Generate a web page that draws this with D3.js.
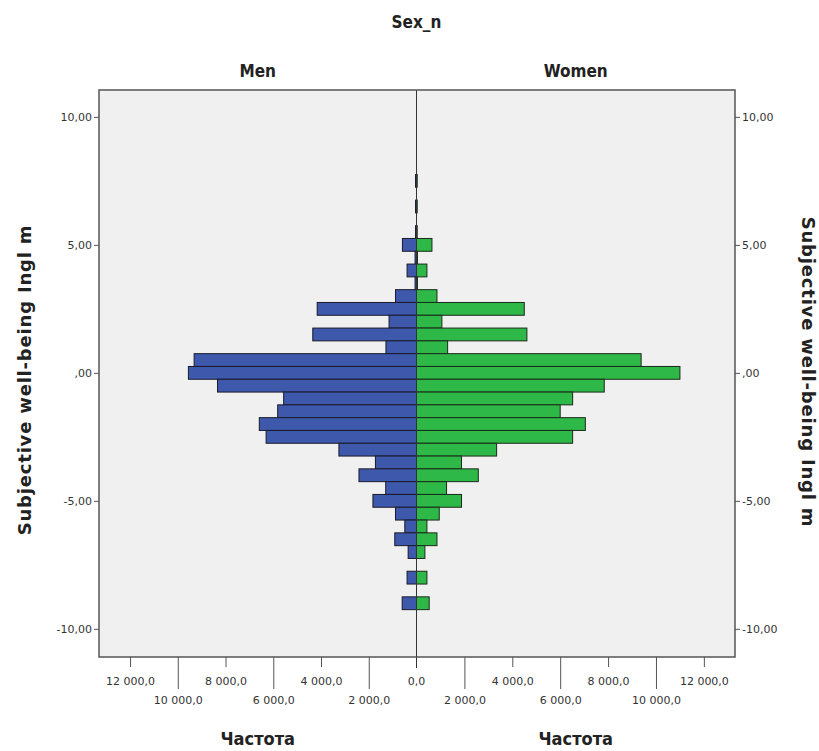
<!DOCTYPE html>
<html>
<head>
<meta charset="utf-8">
<script src="https://cdn.jsdelivr.net/npm/d3@7"></script>
<style>
  body { margin: 0; background: #fff; }
  svg text { font-family: "DejaVu Sans", Verdana, sans-serif; }
  .narrow { font-family: "Liberation Sans Narrow", "DejaVu Sans Condensed", "Liberation Sans", sans-serif !important; }
</style>
</head>
<body>
<div id="chart"></div>
<script>
"use strict";

// bin centres (0,5 wide) of Subjective well-being
var bins = [7.5, 7, 6.5, 6, 5.5, 5, 4.5, 4, 3.5, 3, 2.5, 2, 1.5, 1, 0.5, 0,
  -0.5, -1, -1.5, -2, -2.5, -3, -3.5, -4, -4.5, -5, -5.5, -6, -6.5, -7, -7.5, -8, -8.5, -9];
var men = [40, 0, 40, 0, 40, 590, 60, 395, 60, 880, 4160, 1150, 4345, 1280, 9315, 9555,
  8335, 5565, 5815, 6585, 6300, 3250, 1720, 2410, 1290, 1825, 880, 490, 910, 350, 0, 395, 0, 600];
var women = [30, 0, 30, 0, 30, 645, 40, 435, 40, 855, 4500, 1060, 4610, 1300, 9380, 11000,
  7840, 6520, 6000, 7050, 6520, 3345, 1880, 2580, 1255, 1880, 950, 435, 855, 350, 0, 435, 0, 530];

var yTicks = [10, 5, 0, -5, -10];
var yTickLabels = ["10,00", "5,00", ",00", "-5,00", "-10,00"];
var xTicksShort = [4000, 8000, 12000];
var xTicksLong = [2000, 6000, 10000];
var xTickLabels = { 2000: "2 000,0", 4000: "4 000,0", 6000: "6 000,0", 8000: "8 000,0", 10000: "10 000,0", 12000: "12 000,0" };

var W = 819, H = 751;
var plot = { left: 99, right: 735, top: 90, bottom: 657, mid: 416.5 };
var binW = 0.5;

var svg = d3.select("#chart").append("svg")
  .attr("width", W).attr("height", H);

var y = d3.scaleLinear().domain([-11.1, 11.05]).range([plot.bottom, plot.top]);
var xL = d3.scaleLinear().domain([0, 13300]).range([plot.mid, plot.left]);
var xR = d3.scaleLinear().domain([0, 13300]).range([plot.mid, plot.right]);

// plot background
svg.append("rect")
  .attr("x", plot.left).attr("y", plot.top)
  .attr("width", plot.right - plot.left).attr("height", plot.bottom - plot.top)
  .attr("fill", "#f0f0f0");

var data = bins.map(function (b, i) { return { bin: b, men: men[i], women: women[i] }; });

// men bars
svg.append("g").selectAll("rect")
  .data(data.filter(function (d) { return d.men > 0; }))
  .enter().append("rect")
  .attr("x", function (d) { return xL(d.men); })
  .attr("y", function (d) { return y(d.bin + binW / 2); })
  .attr("width", function (d) { return plot.mid - xL(d.men); })
  .attr("height", function (d) { return y(d.bin - binW / 2) - y(d.bin + binW / 2); })
  .attr("fill", "#3e58ac")
  .attr("stroke", "#1a1a2a")
  .attr("stroke-width", 1);

// women bars
svg.append("g").selectAll("rect")
  .data(data.filter(function (d) { return d.women > 0; }))
  .enter().append("rect")
  .attr("x", plot.mid)
  .attr("y", function (d) { return y(d.bin + binW / 2); })
  .attr("width", function (d) { return xR(d.women) - plot.mid; })
  .attr("height", function (d) { return y(d.bin - binW / 2) - y(d.bin + binW / 2); })
  .attr("fill", "#2eb848")
  .attr("stroke", "#1a2a1a")
  .attr("stroke-width", 1);

// centre line (extends as 0 tick)
svg.append("line")
  .attr("x1", plot.mid).attr("x2", plot.mid)
  .attr("y1", plot.top).attr("y2", plot.bottom + 11)
  .attr("stroke", "#333").attr("stroke-width", 1);

// frame
svg.append("rect")
  .attr("x", plot.left).attr("y", plot.top)
  .attr("width", plot.right - plot.left).attr("height", plot.bottom - plot.top)
  .attr("fill", "none")
  .attr("stroke", "#555").attr("stroke-width", 1.5);

function styleAxis(g) {
  g.select(".domain").remove();
  g.selectAll(".tick line").attr("stroke", "#555");
  g.selectAll(".tick text").attr("fill", "#333").attr("font-size", "11px")
    .attr("font-family", "'DejaVu Sans', Verdana, sans-serif");
}

// y axes
svg.append("g")
  .attr("transform", "translate(" + plot.left + ",0)")
  .call(d3.axisLeft(y).tickValues(yTicks).tickSize(5).tickPadding(2)
    .tickFormat(function (d, i) { return yTickLabels[i]; }))
  .call(styleAxis);

svg.append("g")
  .attr("transform", "translate(" + plot.right + ",0)")
  .call(d3.axisRight(y).tickValues(yTicks).tickSize(5).tickPadding(2)
    .tickFormat(function (d, i) { return yTickLabels[i]; }))
  .call(styleAxis);

// x axes: short ticks with upper row labels, long ticks with lower row labels
[xL, xR].forEach(function (sc) {
  svg.append("g")
    .attr("transform", "translate(0," + plot.bottom + ")")
    .call(d3.axisBottom(sc).tickValues(xTicksShort).tickSize(10).tickPadding(10)
      .tickFormat(function (d) { return xTickLabels[d]; }))
    .call(styleAxis);
  svg.append("g")
    .attr("transform", "translate(0," + plot.bottom + ")")
    .call(d3.axisBottom(sc).tickValues(xTicksLong).tickSize(32).tickPadding(7)
      .tickFormat(function (d) { return xTickLabels[d]; }))
    .call(styleAxis);
});

svg.append("text")
  .attr("x", plot.mid).attr("y", plot.bottom + 28)
  .attr("text-anchor", "middle")
  .attr("fill", "#333").attr("font-size", "11px")
  .text("0,0");

// titles
svg.append("text").attr("class", "narrow")
  .attr("x", plot.mid).attr("y", 28)
  .attr("text-anchor", "middle").attr("font-size", "17px").attr("font-weight", "bold")
  .attr("fill", "#222")
  .text("Sex_n");

svg.append("text").attr("class", "narrow")
  .attr("x", (plot.left + plot.mid) / 2).attr("y", 77)
  .attr("text-anchor", "middle").attr("font-size", "17px").attr("font-weight", "bold")
  .attr("fill", "#222")
  .text("Men");

svg.append("text").attr("class", "narrow")
  .attr("x", (plot.mid + plot.right) / 2).attr("y", 77)
  .attr("text-anchor", "middle").attr("font-size", "17px").attr("font-weight", "bold")
  .attr("fill", "#222")
  .text("Women");

[(plot.left + plot.mid) / 2, (plot.mid + plot.right) / 2].forEach(function (cx) {
  svg.append("text").attr("class", "narrow")
    .attr("x", cx).attr("y", 745)
    .attr("text-anchor", "middle").attr("font-size", "18px").attr("font-weight", "bold")
    .attr("fill", "#222")
    .text("Частота");
});

svg.append("text")
  .attr("transform", "translate(31,380) rotate(-90)")
  .attr("text-anchor", "middle").attr("font-size", "18px").attr("font-weight", "bold")
  .attr("letter-spacing", "0.8px")
  .attr("fill", "#222")
  .text("Subjective well-being Ingl m");

svg.append("text")
  .attr("transform", "translate(802,372) rotate(90)")
  .attr("text-anchor", "middle").attr("font-size", "18px").attr("font-weight", "bold")
  .attr("letter-spacing", "0.8px")
  .attr("fill", "#222")
  .text("Subjective well-being Ingl m");
</script>
</body>
</html>
